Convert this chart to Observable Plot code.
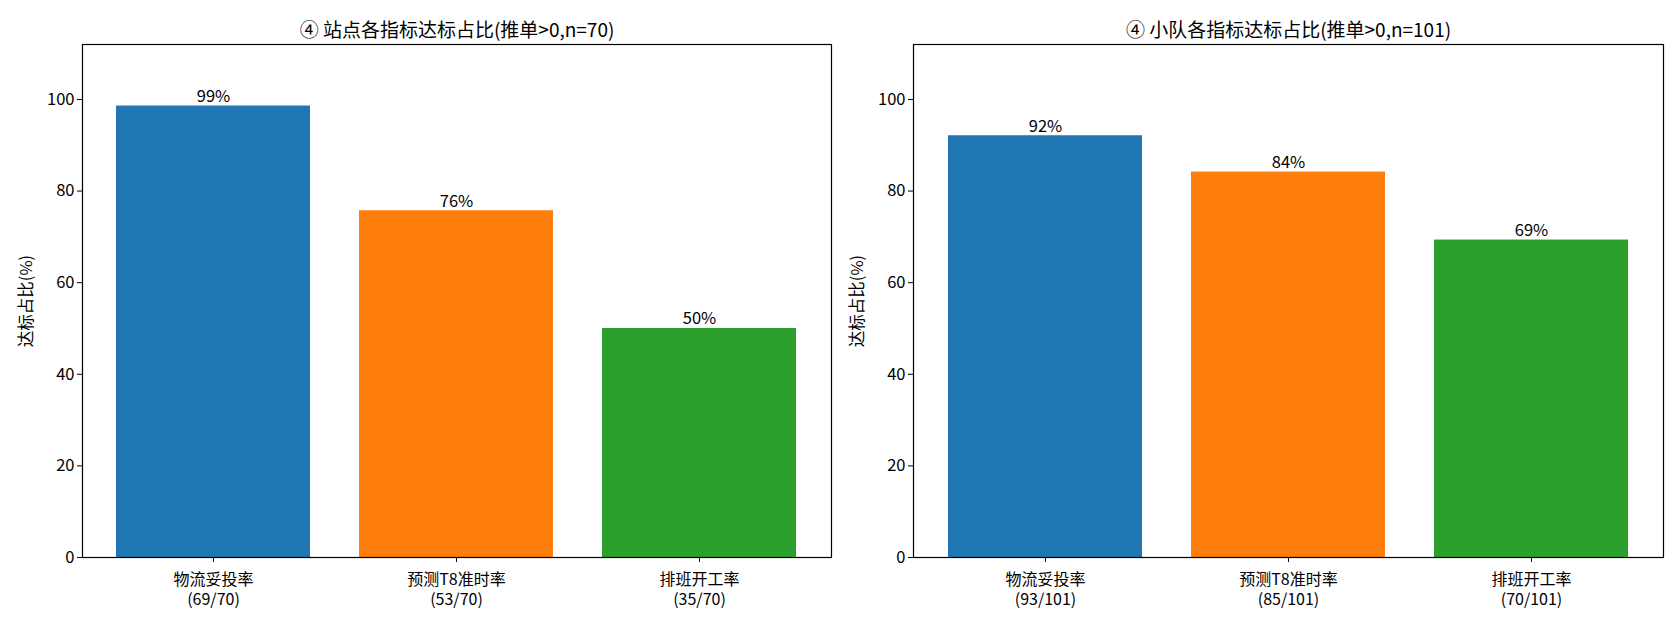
<!DOCTYPE html>
<html>
<head>
<meta charset="utf-8">
<script src="https://cdn.jsdelivr.net/npm/d3@7"></script>
<script src="https://cdn.jsdelivr.net/npm/@observablehq/plot@0.6"></script>
<style>
  body { margin: 0; background: white; }
  #wrap { display: flex; width: 1680px; height: 624px; }
</style>
</head>
<body>
<div id="wrap"></div>
<script>
const categories = ["物流妥投率", "预测T8准时率", "排班开工率"];
const stationHits = [69, 53, 35];
const stationN = 70;
const teamHits = [93, 85, 70];
const teamN = 101;
const barColors = ["#1f77b4", "#ff7f0e", "#2ca02c"];
const yTicks = [0, 20, 40, 60, 80, 100];
const yMax = 112;
const titles = ["④ 站点各指标达标占比(推单>0,n=70)", "④ 小队各指标达标占比(推单>0,n=101)"];
const yLabel = "达标占比(%)";

const FONT = "'Noto Sans CJK SC', 'Noto Sans', sans-serif";
const FS = 16.5;

function panel({title, hits, n, marginLeft, marginRight}) {
  const data = categories.map((c, i) => ({
    cat: c,
    pct: hits[i] / n * 100,
    label: `${Math.round(hits[i] / n * 100)}%`,
    tick: `${c}\n(${hits[i]}/${n})`,
    color: barColors[i]
  }));
  return Plot.plot({
    width: 840,
    height: 624,
    marginLeft,
    marginRight,
    marginTop: 44,
    marginBottom: 67,
    style: {fontFamily: FONT, fontSize: FS + "px", color: "#000", background: "white"},
    x: {domain: categories, paddingInner: 0.2, paddingOuter: 0.14, label: null},
    y: {domain: [0, yMax], label: null},
    color: {type: "identity"},
    marks: [
      Plot.barY(data, {x: "cat", y: "pct", fill: "color"}),
      Plot.text(data, {x: "cat", y: "pct", text: "label", lineAnchor: "bottom", dy: -4, fontSize: FS, fill: "#000"}),
      Plot.frame({stroke: "#000", strokeWidth: 1.2}),
      Plot.axisY({ticks: yTicks, tickSize: 5, tickPadding: 3, fontSize: FS, label: yLabel, labelAnchor: "center", labelArrow: "none", labelOffset: 62}),
      Plot.axisX({tickSize: 5, text: null, label: null}),
      Plot.text(data, {x: "cat", text: "tick", frameAnchor: "bottom", lineAnchor: "middle", lineHeight: 1.22, dy: 31, fontSize: 16, fill: "#000"}),
      Plot.text([title], {frameAnchor: "top", dy: -14, lineAnchor: "middle", fontSize: 19, fill: "#000"})
    ]
  });
}

const wrap = document.getElementById("wrap");
wrap.append(panel({title: titles[0], hits: stationHits, n: stationN, marginLeft: 82, marginRight: 9}));
wrap.append(panel({title: titles[1], hits: teamHits, n: teamN, marginLeft: 73, marginRight: 17}));
</script>
</body>
</html>
